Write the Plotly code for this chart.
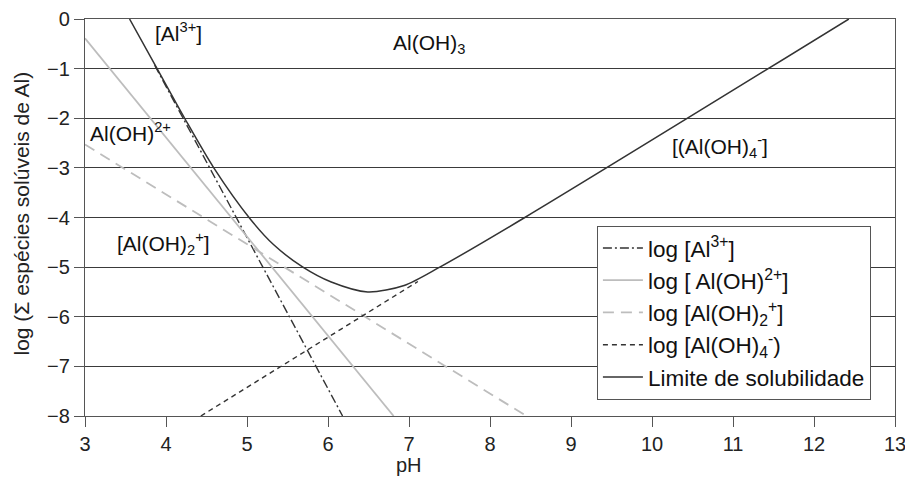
import plotly.graph_objects as go

# ---- data ----
ph_al3 = [3.86, 6.18]
log_al3 = [-0.93, -8.0]

ph_aloh2 = [3.0, 6.81]
log_aloh2 = [-0.39, -8.0]

ph_aloh2p = [3.0, 8.45]
log_aloh2p = [-2.53, -8.0]

ph_aloh4 = [4.43, 7.11]
log_aloh4 = [-8.0, -5.29]

ph_sol = [3.55, 3.89, 4.23, 4.59, 5.04, 5.33, 5.69, 6.04, 6.49, 6.94, 7.38, 8.43, 12.43]
log_sol = [0.0, -1.0, -2.0, -3.0, -4.03, -4.55, -5.0, -5.30, -5.50, -5.37, -5.0, -4.0, 0.0]

x_ticks = [3, 4, 5, 6, 7, 8, 9, 10, 11, 12, 13]
y_ticks = [0, -1, -2, -3, -4, -5, -6, -7, -8]

names = ["log [Al<sup>3+</sup>]",
         "log [ Al(OH)<sup>2+</sup>]",
         "log [Al(OH)<sub>2</sub><sup>+</sup>]",
         "log [Al(OH)<sub>4</sub><sup>-</sup>)",
         "Limite de solubilidade"]

region_labels = ["[Al<sup>3+</sup>]", "Al(OH)<sup>2+</sup>", "Al(OH)<sub>3</sub>",
                 "[(Al(OH)<sub>4</sub><sup>-</sup>]", "[Al(OH)<sub>2</sub><sup>+</sup>]"]
label_ph = [3.84, 3.04, 6.78, 10.22, 3.37]
label_log = [-0.26, -2.28, -0.50, -2.57, -4.52]

DARK = "#333333"
LIGHT = "#bdbdbd"
FONT = "Liberation Sans, Arial, sans-serif"

fig = go.Figure()
fig.add_trace(go.Scatter(x=ph_al3, y=log_al3, mode="lines", name=names[0],
                         line=dict(color=DARK, width=1.4, dash="9px,3px,2px,3px")))
fig.add_trace(go.Scatter(x=ph_aloh2, y=log_aloh2, mode="lines", name=names[1],
                         line=dict(color=LIGHT, width=1.8)))
fig.add_trace(go.Scatter(x=ph_aloh2p, y=log_aloh2p, mode="lines", name=names[2],
                         line=dict(color=LIGHT, width=1.8, dash="11px,7px")))
fig.add_trace(go.Scatter(x=ph_aloh4, y=log_aloh4, mode="lines", name=names[3],
                         line=dict(color=DARK, width=1.4, dash="5px,4px")))
fig.add_trace(go.Scatter(x=ph_sol, y=log_sol, mode="lines", name=names[4],
                         line=dict(color=DARK, width=1.5, shape="spline", smoothing=0.8)))

ann_font = dict(family=FONT, size=21, color="#111111")
for lx, ly, t in zip(label_ph, label_log, region_labels):
    fig.add_annotation(x=lx, y=ly, text=t, showarrow=False, xanchor="left",
                       yanchor="middle", font=ann_font)

# axis titles
fig.add_annotation(xref="paper", yref="paper", x=0, y=0.51, xshift=-63,
                   text="log (Σ espécies solúveis de Al)", textangle=-90,
                   showarrow=False, xanchor="center", yanchor="middle",
                   font=dict(family=FONT, size=21, color="#222222"))
fig.add_annotation(xref="x", yref="paper", x=7, y=0, yshift=-49,
                   text="pH", showarrow=False, xanchor="center", yanchor="middle",
                   font=dict(family=FONT, size=20, color="#222222"))

fig.update_layout(
    width=905, height=479,
    margin=dict(l=85, r=10, t=19, b=63),
    paper_bgcolor="white", plot_bgcolor="white",
    font=dict(family=FONT, size=20, color="#222222"),
    showlegend=True,
    legend=dict(x=0.632, y=0.479, xanchor="left", yanchor="top",
                bgcolor="white", bordercolor="#555555", borderwidth=1,
                font=dict(size=22.5, color="#111111"), tracegroupgap=0,
                itemwidth=40),
    xaxis=dict(range=[3, 13], tickvals=x_ticks, ticks="outside", ticklen=10,
               tickcolor="#555555", showline=True, linecolor="#555555", linewidth=1.2,
               mirror=True, showgrid=False, zeroline=False, automargin=False,
               ticklabeloverflow="allow", tickfont=dict(size=20)),
    yaxis=dict(range=[-8, 0], tickvals=y_ticks, ticks="outside", ticklen=10,
               tickcolor="#555555", showline=True, linecolor="#555555", linewidth=1.2,
               mirror=True, showgrid=True, gridcolor="#3a3a3a", gridwidth=1,
               zeroline=False, automargin=False,
               ticklabeloverflow="allow", tickfont=dict(size=20)),
)

fig.write_html("out.html", config={"displayModeBar": False},
               post_script="document.body.style.margin='0';")
